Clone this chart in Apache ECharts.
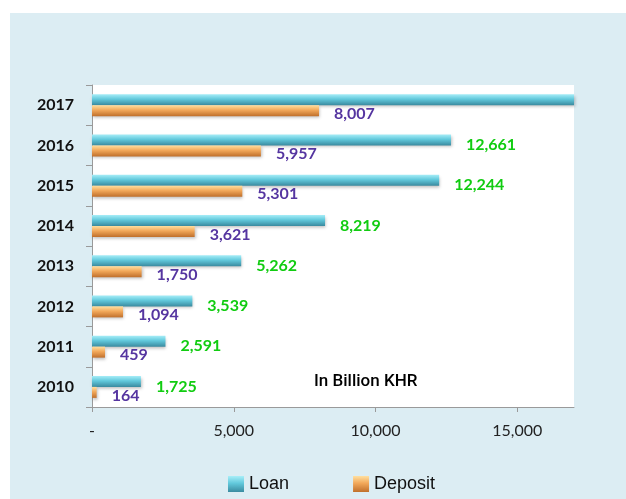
<!DOCTYPE html>
<html>
<head>
<meta charset="utf-8">
<script src="https://cdn.jsdelivr.net/npm/echarts@6/dist/echarts.min.js"></script>
<style>
  html, body { margin: 0; padding: 0; background: #fff; }
  .wrap { position: absolute; left: 10px; top: 13px; width: 616px; height: 486px; background: #dcedf3; }
  #chart { width: 616px; height: 486px; }
</style>
</head>
<body>
<div class="wrap"><div id="chart"></div></div>
<script>
// data (billion KHR)
const years = ['2010', '2011', '2012', '2013', '2014', '2015', '2016', '2017']
const loan = [1725, 2591, 3539, 5262, 8219, 12244, 12661, 17500]
const deposit = [164, 459, 1094, 1750, 3621, 5301, 5957, 8007]
const xTicks = [0, 5000, 10000, 15000]

const chart = echarts.init(document.getElementById('chart'))

// bevel-ish gradients
const loanColor = new echarts.graphic.LinearGradient(0, 0, 0, 1, [
  { offset: 0, color: '#a8eef8' },
  { offset: 0.45, color: '#62c9dc' },
  { offset: 1, color: '#3a8ba0' },
])
const depositColor = new echarts.graphic.LinearGradient(0, 0, 0, 1, [
  { offset: 0, color: '#ffe0a0' },
  { offset: 0.45, color: '#f2a85a' },
  { offset: 1, color: '#c0702c' },
])

const fmt = (v) => (v === 0 ? '-' : v.toLocaleString('en-US'))

const barShadow = {
  shadowBlur: 3,
  shadowOffsetX: 1,
  shadowOffsetY: 2,
  shadowColor: 'rgba(0,0,0,0.25)',
}

const options = {
  animation: false,
  grid: {
    left: 82,
    top: 72,
    right: 52,
    bottom: 92,
    show: true,
    backgroundColor: '#fff',
    borderWidth: 0,
  },
  legend: {
    data: ['Loan', 'Deposit'],
    left: 213,
    top: 457,
    icon: 'rect',
    itemWidth: 16,
    itemHeight: 16,
    itemGap: 64,
    textStyle: { fontFamily: 'Liberation Sans', fontSize: 18, color: '#111' },
  },
  xAxis: {
    type: 'value',
    min: 0,
    max: 17000,
    interval: 5000,
    splitLine: { show: false },
    axisLine: { show: true, lineStyle: { color: '#9a9a9a' } },
    axisTick: { show: true, length: 5, lineStyle: { color: '#9a9a9a' } },
    axisLabel: {
      margin: 16,
      fontFamily: 'Lato',
      fontSize: 16,
      color: '#222',
      showMaxLabel: false,
      formatter: (v) => (xTicks.includes(v) ? fmt(v) : ''),
    },
  },
  yAxis: {
    type: 'category',
    data: years,
    axisLine: { show: true, lineStyle: { color: '#9a9a9a' } },
    axisTick: { show: true, length: 6, lineStyle: { color: '#9a9a9a' } },
    axisLabel: {
      margin: 18,
      fontFamily: 'Lato',
      fontWeight: 'bold',
      fontSize: 16,
      color: '#111',
    },
  },
  graphic: [
    {
      type: 'text',
      left: 304,
      top: 360,
      style: {
        text: 'In Billion KHR',
        fontFamily: 'Roboto',
        fontWeight: 500,
        fontSize: 17,
        fill: '#000',
      },
    },
  ],
  series: [
    {
      name: 'Loan',
      type: 'bar',
      barWidth: 11,
      barGap: '0%',
      data: loan.map((v, i) => (i === loan.length - 1 ? { value: v, label: { show: false } } : v)),
      itemStyle: { color: loanColor, ...barShadow },
      label: {
        show: true,
        position: 'right',
        distance: 15,
        offset: [0, 5],
        fontFamily: 'Lato',
        fontWeight: 'bold',
        fontSize: 16,
        color: '#11cc11',
        formatter: (p) => fmt(p.value),
      },
    },
    {
      name: 'Deposit',
      type: 'bar',
      barWidth: 11,
      barGap: '0%',
      data: deposit,
      itemStyle: { color: depositColor, ...barShadow },
      label: {
        show: true,
        position: 'right',
        distance: 15,
        offset: [0, 3],
        fontFamily: 'Lato',
        fontWeight: 'bold',
        fontSize: 16,
        color: '#5535a0',
        formatter: (p) => fmt(p.value),
      },
    },
  ],
}

chart.setOption(options)
</script>
</body>
</html>
